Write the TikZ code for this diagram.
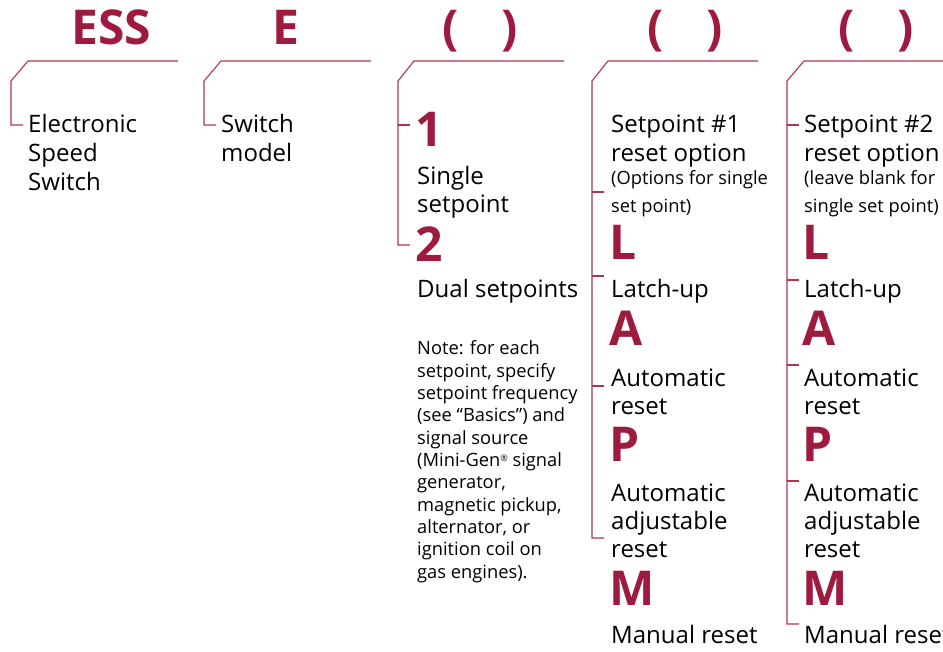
\documentclass[tikz,border=0pt]{standalone}
\usepackage{fontspec}
\setmainfont{Open Sans}
\definecolor{headc}{RGB}{158,27,63}
\definecolor{linec}{RGB}{170,55,82}
\begin{document}
\begin{tikzpicture}[x=1pt,y=-1pt,
  body/.style={anchor=base west,inner sep=0pt,font=\fontsize{24}{28}\selectfont},
  small/.style={anchor=base west,inner sep=0pt,font=\fontsize{18.3}{21}\selectfont},
  note/.style={anchor=base west,inner sep=0pt,font=\fontsize{18.3}{21}\selectfont},
  code/.style={anchor=base west,inner sep=0pt,text=headc,font=\fontsize{48}{52}\selectfont\bfseries},
  head/.style={anchor=base,inner sep=0pt,text=headc,font=\fontsize{48}{52}\selectfont\bfseries},
  brk/.style={draw=linec,line width=1.1pt}]
\useasboundingbox (0,0) rectangle (943,652);
% headings
\node[head] (hess) at (111,45) {ESS};
\node[head] (he) at (286,45) {E};
\node[head] (hp3) at (480,45) {(\hspace{43pt})};
\node[head] (hp4) at (685,45) {(\hspace{43pt})};
\node[head] (hp5) at (876,45) {(\hspace{43pt})};
% brackets
\draw[brk] (178,61) -- (28,61) -- (11,81) -- (11,125) -- (23,125);
\draw[brk] (371,61) -- (221,61) -- (204,81) -- (204,125) -- (216,125);
\draw[brk] (564,61) -- (414,61) -- (398,81) -- (398,245) -- (410,245);
\draw[brk] (398,125) -- (410,125);
\draw[brk] (758,61) -- (608,61) -- (592,81) -- (592,538) -- (604,538);
\foreach \t in {192,276,386} \draw[brk] (592,\t) -- (604,\t);
\draw[brk] (943,61) -- (804,61) -- (787,81) -- (787,624) -- (799,624);
\foreach \t in {125,280,365,481} \draw[brk] (787,\t) -- (799,\t);
% column 1
\node[body] (c1a) at (28,133) {Electronic};
\node[body] (c1b) at (28,162) {Speed};
\node[body] (c1c) at (28,191) {Switch};
% column 2
\node[body] (c2a) at (221,133) {Switch};
\node[body] (c2b) at (221,162) {model};
% column 3
\node[code] (k1) at (415,147) {1};
\node[body] (c3a) at (417,185) {Single};
\node[body] (c3b) at (417,213) {setpoint};
\node[code] (k2) at (415,262) {2};
\node[body] (c3c) at (417,298) {Dual setpoints};
\node[note] (n0) at (417,355.0) {Note: for each};
\node[note] (n1) at (417,377.3) {setpoint, specify};
\node[note] (n2) at (417,399.6) {setpoint frequency};
\node[note] (n3) at (417,421.9) {(see “Basics”) and};
\node[note] (n4) at (417,444.2) {signal source};
\node[note] (n5) at (417,466.5) {(Mini-Gen\raisebox{5.5pt}{\fontsize{9}{9}\selectfont ®} signal};
\node[note] (n6) at (417,488.8) {generator,};
\node[note] (n7) at (417,511.1) {magnetic pickup,};
\node[note] (n8) at (417,533.4) {alternator, or};
\node[note] (n9) at (417,555.7) {ignition coil on};
\node[note] (n10) at (417,578.0) {gas engines).};
% column 4
\node[body] (c4a) at (611,133) {Setpoint \#1};
\node[body] (c4b) at (611,162) {reset option};
\node[small] (c4c) at (611,185) {(Options for single};
\node[small] (c4d) at (611,213) {set point)};
\node[code] (kL4) at (609,260) {L};
\node[body] (c4e) at (611,298) {Latch-up};
\node[code] (kA4) at (609,346) {A};
\node[body] (c4f) at (611,387) {Automatic};
\node[body] (c4g) at (611,414) {reset};
\node[code] (kP4) at (609,461) {P};
\node[body] (c4h) at (611,501) {Automatic};
\node[body] (c4i) at (611,529) {adjustable};
\node[body] (c4j) at (611,557) {reset};
\node[code] (kM4) at (609,605) {M};
\node[body] (c4k) at (611,643) {Manual reset};
% column 5
\node[body] (c5a) at (804,133) {Setpoint \#2};
\node[body] (c5b) at (804,162) {reset option};
\node[small] (c5c) at (804,185) {(leave blank for};
\node[small] (c5d) at (804,213) {single set point)};
\node[code] (kL5) at (802,260) {L};
\node[body] (c5e) at (804,298) {Latch-up};
\node[code] (kA5) at (802,346) {A};
\node[body] (c5f) at (804,387) {Automatic};
\node[body] (c5g) at (804,414) {reset};
\node[code] (kP5) at (802,461) {P};
\node[body] (c5h) at (804,501) {Automatic};
\node[body] (c5i) at (804,529) {adjustable};
\node[body] (c5j) at (804,557) {reset};
\node[code] (kM5) at (802,605) {M};
\node[body] (c5k) at (804,643) {Manual reset};
\end{tikzpicture}
\end{document}
